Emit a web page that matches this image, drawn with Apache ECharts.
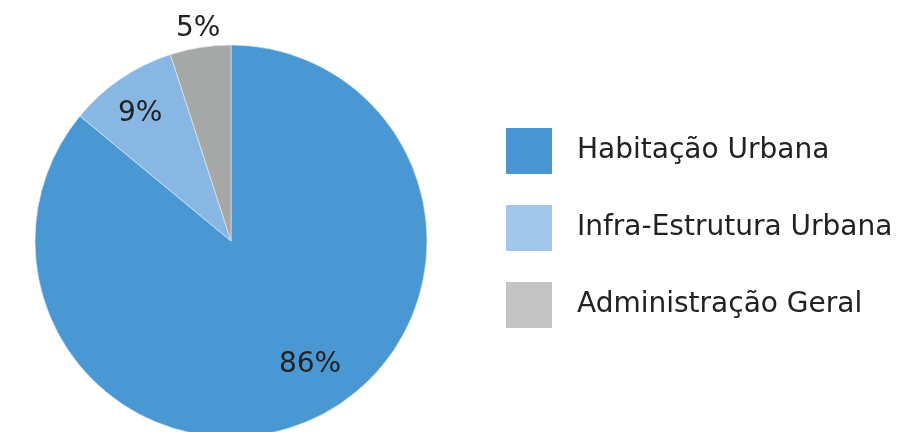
<!DOCTYPE html>
<html><head><meta charset="utf-8">
<script src="https://cdn.jsdelivr.net/npm/echarts@6/dist/echarts.min.js"></script>
<style>html,body{margin:0;padding:0;background:#fff}#c{width:910px;height:432px}</style>
</head><body><div id="c"></div>
<script>
const categories = ['Habitação Urbana', 'Infra-Estrutura Urbana', 'Administração Geral'];
const values = [86, 9, 5];
const sliceColors = ['#4a98d3', '#87b7e2', '#a6a7a7'];
const legendColors = ['#4a96d4', '#a3c6eb', '#c4c4c4'];
const labelShift = [[36, 32], [-34, -44], [-17, -113]];

const chart = echarts.init(document.getElementById('c'));
chart.setOption({
  animation: false,
  legend: {
    orient: 'vertical', left: 506, top: 128, padding: 0,
    itemWidth: 46, itemHeight: 46, itemGap: 31,
    icon: 'rect',
    itemStyle: { borderWidth: 0 },
    textStyle: { fontSize: 28, color: '#222', fontFamily: 'DejaVu Sans', padding: [10, 0, 0, 20] },
    data: categories.map((n, i) => ({ name: n, itemStyle: { color: legendColors[i], borderWidth: 0 } }))
  },
  series: [{
    type: 'pie', center: [231, 241], radius: 196, startAngle: 90, clockwise: true,
    itemStyle: { borderColor: '#e8eef4', borderWidth: 0.6 },
    label: { position: 'inside', formatter: '{c}%', fontSize: 28, color: '#222', fontFamily: 'DejaVu Sans' },
    labelLine: { show: false },
    labelLayout: function (p) { const s = labelShift[p.dataIndex]; return { dx: s[0], dy: s[1] }; },
    data: categories.map((n, i) => ({ name: n, value: values[i], itemStyle: { color: sliceColors[i] } }))
  }]
});
</script></body></html>
